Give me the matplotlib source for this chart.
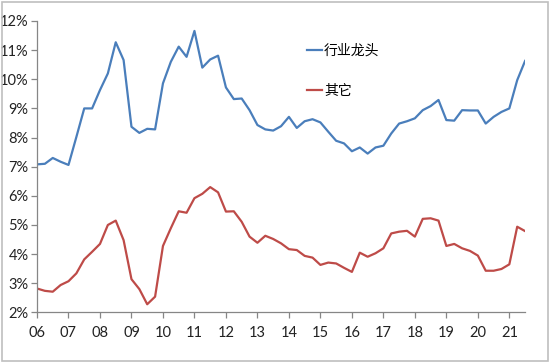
import matplotlib
matplotlib.use("Agg")
import matplotlib.pyplot as plt
from matplotlib.patches import Rectangle
from matplotlib.ticker import FuncFormatter

plt.rcParams["font.family"] = ["Noto Sans CJK SC", "DejaVu Sans"]

# quarterly data, 2006Q1 .. 2021Q3 (percent)
leaders = [7.08, 7.10, 7.30, 7.17, 7.06, 8.02, 9.00, 9.00, 9.63, 10.20,
           11.27, 10.66, 8.37, 8.16, 8.30, 8.28, 9.86, 10.60, 11.12, 10.77,
           11.66, 10.40, 10.68, 10.81, 9.72, 9.32, 9.34, 8.94, 8.43, 8.28,
           8.24, 8.39, 8.71, 8.33, 8.56, 8.63, 8.52, 8.20, 7.89, 7.80,
           7.53, 7.66, 7.45, 7.66, 7.72, 8.14, 8.48, 8.56, 8.66, 8.94,
           9.08, 9.29, 8.60, 8.58, 8.94, 8.93, 8.93, 8.48, 8.71, 8.88,
           9.00, 9.97, 10.63]
others = [2.82, 2.74, 2.71, 2.94, 3.07, 3.34, 3.82, 4.08, 4.35, 5.00,
          5.15, 4.48, 3.14, 2.80, 2.28, 2.54, 4.28, 4.89, 5.47, 5.42,
          5.92, 6.07, 6.30, 6.12, 5.46, 5.47, 5.11, 4.60, 4.39, 4.63,
          4.52, 4.37, 4.17, 4.14, 3.94, 3.88, 3.63, 3.71, 3.68, 3.53,
          3.39, 4.05, 3.91, 4.03, 4.20, 4.71, 4.77, 4.80, 4.60, 5.21,
          5.23, 5.15, 4.28, 4.35, 4.20, 4.11, 3.95, 3.43, 3.43, 3.49,
          3.65, 4.94, 4.79]
year_labels = ["06", "07", "08", "09", "10", "11", "12", "13",
               "14", "15", "16", "17", "18", "19", "20", "21"]
series_names = ["行业龙头", "其它"]

BLUE = "#4A7EBB"
RED = "#BE4B48"
AXIS = "#868686"

fig = plt.figure(figsize=(5.54, 3.62), dpi=100)
fig.patches.append(Rectangle((0.003, 0.004), 0.987, 0.99, transform=fig.transFigure,
                             fill=False, edgecolor="#BFBFBF", lw=1.2))
ax = fig.add_axes([0.0668, 0.137, 0.881, 0.805])

x = list(range(len(leaders)))
ax.plot(x, leaders, color=BLUE, lw=1.6, label=series_names[0])
ax.plot(x, others, color=RED, lw=1.6, label=series_names[1])

ax.set_xlim(0, len(leaders) - 1)
ax.set_ylim(2, 12)
ax.set_xticks(range(0, 4 * len(year_labels), 4))
ax.set_xticklabels(year_labels)
ax.set_yticks(range(2, 13))
ax.yaxis.set_major_formatter(FuncFormatter(lambda v, _: f"{v:.0f}%"))

for s in ("top", "right"):
    ax.spines[s].set_visible(False)
for s in ("left", "bottom"):
    ax.spines[s].set_color(AXIS)
    ax.spines[s].set_linewidth(0.9)
ax.tick_params(axis="both", colors=AXIS, length=4, width=0.9,
               labelsize=10.5, labelcolor="#222222")
ax.tick_params(axis="x", pad=6)
ax.tick_params(axis="y", pad=2)
for lab in ax.get_xticklabels() + ax.get_yticklabels():
    lab.set_family(["Lato", "DejaVu Sans"])

ax.legend(loc="upper left", bbox_to_anchor=(0.528, 0.965), frameon=False,
          handlelength=1.1, handletextpad=0.1, labelspacing=1.9, fontsize=10)

fig.savefig("out.png", dpi=100)
